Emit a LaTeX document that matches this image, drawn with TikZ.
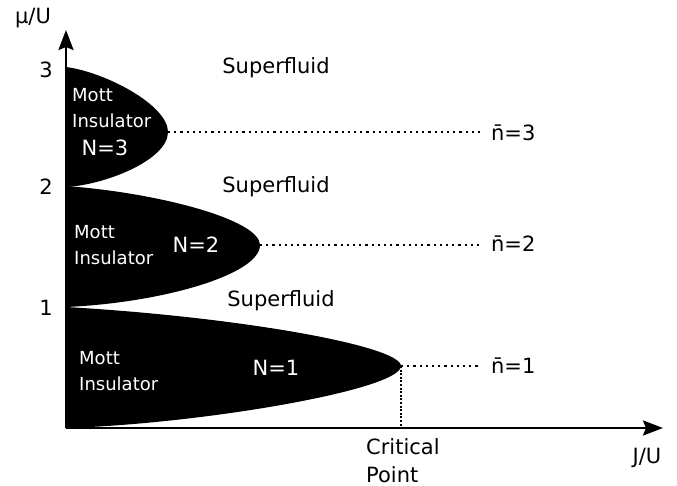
\documentclass[tikz,border=0pt]{standalone}
\usepackage{fontspec}
\setmainfont{DejaVu Sans}
\usetikzlibrary{arrows.meta}

\begin{document}
\begin{tikzpicture}[x=1pt, y=-1pt,
        every node/.style={font=\fontsize{21}{28}\selectfont, inner sep=0pt},
        mott/.style={font=\fontsize{18}{26}\selectfont, text=white, align=left, anchor=west},
        lobe/.style={fill=black},
        axis/.style={draw=black, line width=2.4pt, -{Stealth[length=20pt, width=15pt, inset=3pt]}},
        guide/.style={draw=black, line width=2.4pt, dash pattern=on 2.2pt off 4pt},
        drop/.style={draw=black, line width=2.4pt, dash pattern=on 2pt off 1.6pt}]
        \useasboundingbox (0, 0) rectangle (677, 486);

        \coordinate (o) at (66, 428);
        \coordinate (ytip) at (66, 30);
        \coordinate (xtip) at (663, 428);

        % the three lobes
        \fill[lobe] (66, 307) .. controls (240, 317) and (401, 346) .. (401, 366)
                    .. controls (401, 390) and (200, 424) .. (66, 428) -- cycle;
        \fill[lobe] (66, 186) .. controls (160, 193) and (260, 220) .. (260, 245)
                    .. controls (260, 275) and (160, 303) .. (66, 307) -- cycle;
        \fill[lobe] (66, 67) .. controls (105, 72) and (168, 105) .. (168, 132)
                    .. controls (168, 160) and (105, 185) .. (66, 187) -- cycle;

        \coordinate (tip1) at (401, 366);
        \coordinate (tip2) at (260, 245);
        \coordinate (tip3) at (168, 132);
        \coordinate (e1) at (481, 366);
        \coordinate (e2) at (481, 245);
        \coordinate (e3) at (481, 132);

        \draw[axis] (o) -- (ytip);
        \draw[axis] (o) -- (xtip);

        \node[] (mu) at (33, 18) {μ/U};
        \node[] (jay) at (647, 458) {J/U};
        \node[] (t1) at (46, 308) {1};
        \node[] (t2) at (46, 187) {2};
        \node[] (t3) at (46, 70) {3};

        \node[] (sf1) at (281, 301) {Superfluid};
        \node[] (sf2) at (276, 187) {Superfluid};
        \node[] (sf3) at (276, 68) {Superfluid};

        \node[mott] (mi1) at (79, 371) {Mott\\Insulator};
        \node[mott] (mi2) at (74, 245) {Mott\\Insulator};
        \node[mott] (mi3) at (72, 108) {Mott\\Insulator};
        \node[text=white] (n1) at (276, 368) {N=1};
        \node[text=white] (n2) at (196, 245) {N=2};
        \node[text=white] (n3) at (105, 148) {N=3};

        \node[anchor=west] (nb1) at (491, 366) {\=n=1};
        \node[anchor=west] (nb2) at (491, 244) {\=n=2};
        \node[anchor=west] (nb3) at (491, 133) {\=n=3};
        \node[align=left, anchor=north west] (crit) at (366, 438) {Critical\\Point};

        \draw[guide] (tip1) -- (e1);
        \draw[guide] (tip2) -- (e2);
        \draw[guide] (tip3) -- (e3);
        \draw[drop] (tip1) -- (tip1 |- o);
    \end{tikzpicture}
\end{document}
